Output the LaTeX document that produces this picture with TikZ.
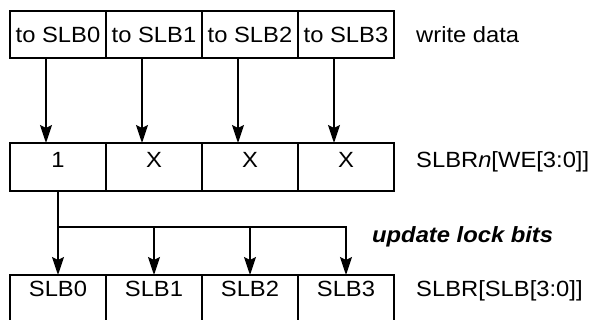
\documentclass[tikz,border=0pt]{standalone}
\usepackage{fontspec}
\setmainfont{Liberation Sans}[FakeStretch=1.08]
\usetikzlibrary{arrows.meta,positioning}

\begin{document}
\begin{tikzpicture}[x=1pt, y=1pt,
  cell/.style={draw, line width=1.6pt, minimum width=96pt, minimum height=48pt,
               inner sep=0pt, outer sep=0pt, font=\fontsize{22}{26}\selectfont},
  note/.style={inner sep=0pt, font=\fontsize{22}{26}\selectfont},
  flow/.style={->, line width=1.6pt},
  >={Stealth[length=18pt, width=12pt, inset=3pt]}]
  \useasboundingbox (0,0) rectangle (595,-320);
  \node[cell, minimum height=47pt] (w0) at (58,-34.5) {to SLB0};
  \node[cell, minimum height=47pt, right=0pt of w0] (w1) {to SLB1};
  \node[cell, minimum height=47pt, right=0pt of w1] (w2) {to SLB2};
  \node[cell, minimum height=47pt, right=0pt of w2] (w3) {to SLB3};
  \node[note, right=22pt of w3] (wdata) {write data};

  \node[cell, text depth=14pt] (m0) at (58,-167) {1};
  \node[cell, text depth=14pt, right=0pt of m0] (m1) {X};
  \node[cell, text depth=14pt, right=0pt of m1] (m2) {X};
  \node[cell, text depth=14pt, right=0pt of m2] (m3) {X};
  \node[note, right=22pt of m3.base east, anchor=base west] (webits) {SLBR\textit{n}[WE[3:0]]};

  \node[cell, text depth=20pt] (b0) at (58,-299) {SLB0};
  \node[cell, text depth=20pt, right=0pt of b0] (b1) {SLB1};
  \node[cell, text depth=20pt, right=0pt of b1] (b2) {SLB2};
  \node[cell, text depth=20pt, right=0pt of b2] (b3) {SLB3};
  \node[note, right=22pt of b3.base east, anchor=base west] (slbits) {SLBR[SLB[3:0]]};

  \draw[flow] ([xshift=-12pt]w0.south) -- ([xshift=-12pt]m0.north);
  \draw[flow] ([xshift=-12pt]w1.south) -- ([xshift=-12pt]m1.north);
  \draw[flow] ([xshift=-12pt]w2.south) -- ([xshift=-12pt]m2.north);
  \draw[flow] ([xshift=-12pt]w3.south) -- ([xshift=-12pt]m3.north);

  \coordinate (bus) at (0,-227);
  \draw[flow] (m0.south) -- (b0.north);
  \draw[flow] (m0.south |- bus) -| (b3.north);
  \draw[flow] (b1.north |- bus) -- (b1.north);
  \draw[flow] (b2.north |- bus) -- (b2.north);
  \node[note, anchor=base west, font=\fontsize{22}{26}\selectfont\bfseries\itshape]
    (upd) at (372,-243) {update lock bits};
\end{tikzpicture}
\end{document}
